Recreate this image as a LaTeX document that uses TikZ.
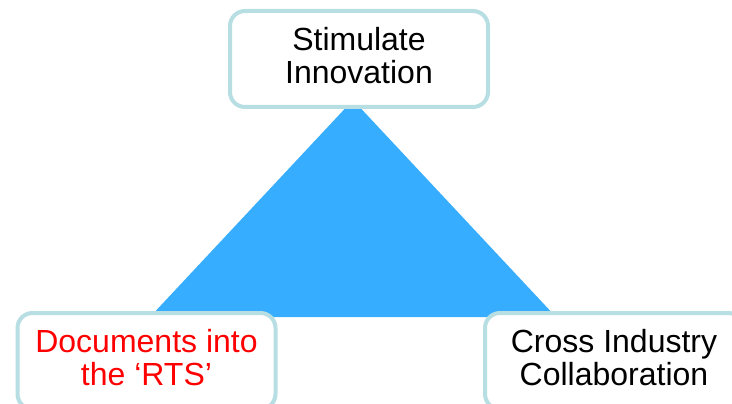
\documentclass[tikz,border=0pt]{standalone}
\usepackage{fontspec}
\setmainfont{Liberation Sans}
\definecolor{boxline}{RGB}{183,222,227}
\definecolor{trifill}{RGB}{54,173,255}
\definecolor{redtext}{RGB}{255,0,0}
\begin{document}
\begin{tikzpicture}[x=1pt,y=-1pt,
  box/.style={draw=boxline, line width=4pt, fill=white, rounded corners=15pt,
    minimum width=258pt, minimum height=96pt, inner sep=0pt, align=center,
    font=\fontsize{32}{33}\selectfont, text depth=8pt}]
\useasboundingbox (0,0) rectangle (732,404);
\coordinate (apex) at (353,100);
\coordinate (bl) at (150,317);
\coordinate (br) at (556,317);
\fill[trifill] (apex) -- (bl) -- (br) -- cycle;
\node[box] (top) at (359,59) {Stimulate\\Innovation};
\node[box, text=redtext] (left) at (146.5,361) {Documents into\\the ‘RTS’};
\node[box] (right) at (614,361) {Cross Industry\\Collaboration};
\end{tikzpicture}
\end{document}
